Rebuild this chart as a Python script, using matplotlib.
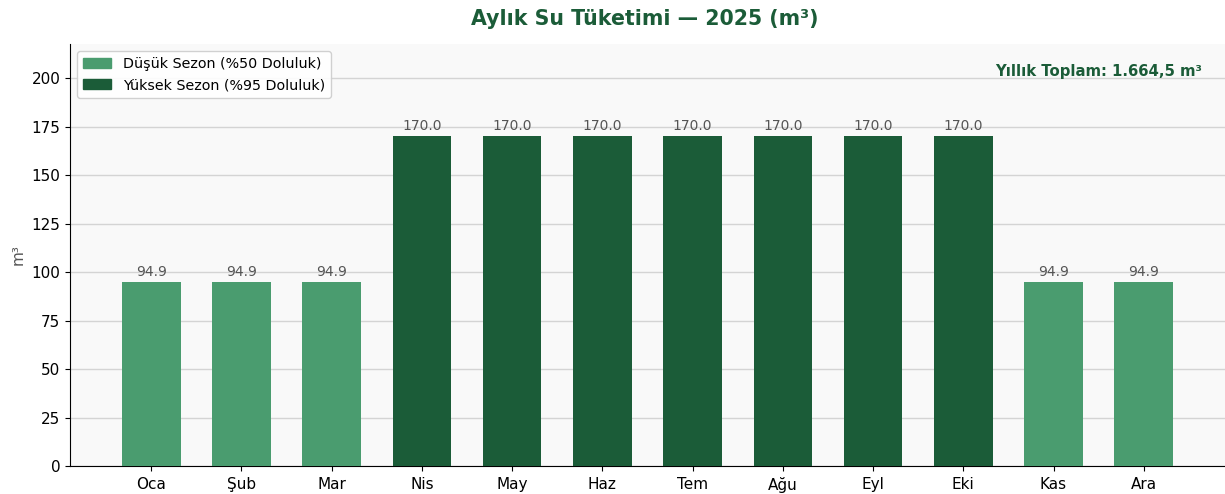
import matplotlib
matplotlib.use("Agg")
import matplotlib.pyplot as plt
from matplotlib.patches import Patch

months = ["Oca", "Şub", "Mar", "Nis", "May", "Haz", "Tem", "Ağu", "Eyl", "Eki", "Kas", "Ara"]
values = [94.9, 94.9, 94.9, 170.0, 170.0, 170.0, 170.0, 170.0, 170.0, 170.0, 94.9, 94.9]
high_season = [False, False, False, True, True, True, True, True, True, True, False, False]

LIGHT = "#4a9c6f"
DARK = "#1b5c38"
TITLE_C = "#1b5c38"

fig = plt.figure(figsize=(12.25, 4.94), dpi=100)
ax = fig.add_axes([70/1225, 28/494, 1 - 70/1225, (466-44)/494])
ax.set_facecolor("#f9f9f9")

x = list(range(len(months)))
colors = [DARK if h else LIGHT for h in high_season]
bars = ax.bar(x, values, width=0.65, color=colors, zorder=3)
for xi, v in zip(x, values):
    ax.text(xi, v + 1.5, f"{v:.1f}", ha="center", va="bottom", fontsize=10, color="#555555", zorder=4)

ax.set_xlim(-0.9, 11.9)
ax.set_ylim(0, max(values) * 1.28)
ax.set_xticks(x)
ax.set_xticklabels(months, fontsize=11)
ax.tick_params(axis="x", pad=4.5)
ax.set_yticks(range(0, 201, 25))
ax.tick_params(axis="y", labelsize=11)
ax.set_ylabel("m³", fontsize=11, color="#555555")
ax.grid(axis="y", color="#d4d4d4", linewidth=1, zorder=0)
for s in ["top", "right"]:
    ax.spines[s].set_visible(False)

fig.text(0.526, 1 - 19/494, "Aylık Su Tüketimi — 2025 (m³)", fontsize=14.8, fontweight="bold",
         color=TITLE_C, ha="center", va="center")

handles = [Patch(color=LIGHT, label="Düşük Sezon (%50 Doluluk)"),
           Patch(color=DARK, label="Yüksek Sezon (%95 Doluluk)")]
ax.legend(handles=handles, loc="upper left", fontsize=10.3, framealpha=0.9)

total = sum(values)
total_str = f"{total:,.1f}".replace(",", "X").replace(".", ",").replace("X", ".")
ax.text(0.98, 0.935, f"Yıllık Toplam: {total_str} m³", transform=ax.transAxes, ha="right", va="center",
        fontsize=10.7, fontweight="bold", color=TITLE_C)

fig.savefig("out.png", dpi=100)
